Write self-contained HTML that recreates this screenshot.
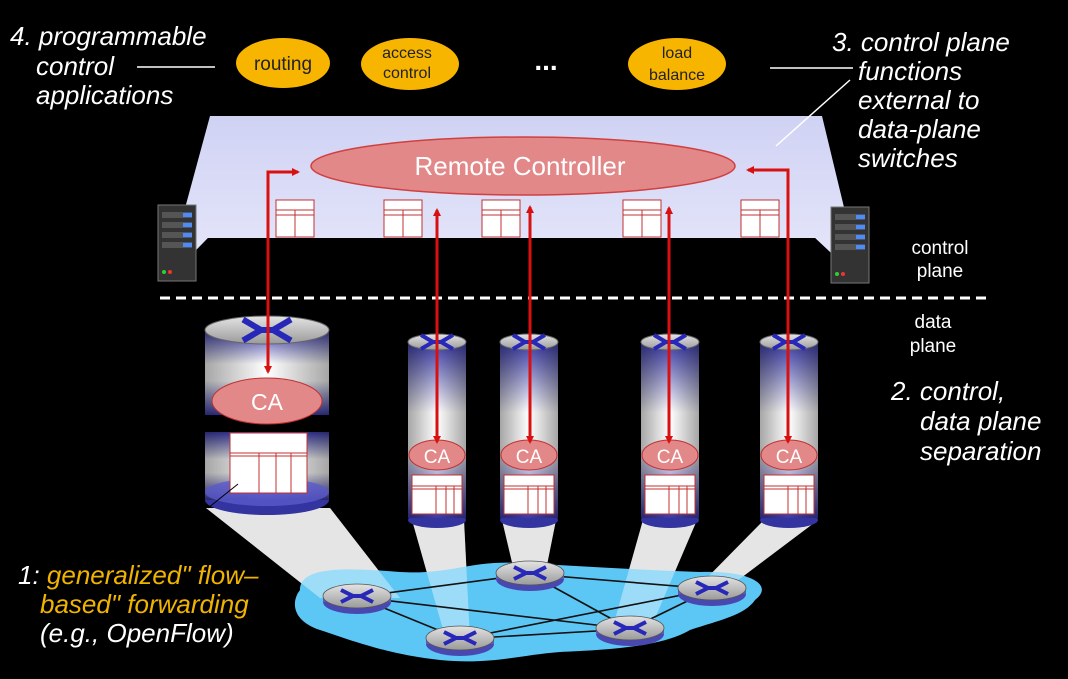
<!DOCTYPE html>
<html><head><meta charset="utf-8"><style>
html,body{margin:0;padding:0;background:#000;}
svg{display:block;}
text{font-family:"Liberation Sans",sans-serif;}
.it{font-style:italic;fill:#fff;font-size:26px;}
</style></head><body>
<svg width="1068" height="679" viewBox="0 0 1068 679" xmlns="http://www.w3.org/2000/svg">
<defs>
<linearGradient id="cyl" x1="0" y1="0" x2="0" y2="1">
<stop offset="0" stop-color="#3a3aa8"/><stop offset="0.4" stop-color="#ffffff"/><stop offset="0.6" stop-color="#ffffff"/><stop offset="1" stop-color="#3a3aa8"/>
</linearGradient>
<linearGradient id="cylh" x1="0" y1="0" x2="1" y2="0">
<stop offset="0" stop-color="#000" stop-opacity="0.35"/><stop offset="0.5" stop-color="#000" stop-opacity="0"/><stop offset="1" stop-color="#000" stop-opacity="0.35"/>
</linearGradient>
<linearGradient id="cap" x1="0" y1="0" x2="0" y2="1">
<stop offset="0" stop-color="#e4e4e4"/><stop offset="1" stop-color="#9a9a9a"/>
</linearGradient>
<linearGradient id="wall" x1="0" y1="0" x2="0" y2="1">
<stop offset="0" stop-color="#d0d2f4"/><stop offset="1" stop-color="#e8e9fb"/>
</linearGradient>
<g id="tbl"><rect x="0" y="0" width="38" height="37" fill="#fff" stroke="#c03030" stroke-width="1"/><line x1="0" y1="10" x2="38" y2="10" stroke="#c03030"/><line x1="0" y1="15" x2="38" y2="15" stroke="#c03030"/><line x1="19" y1="10" x2="19" y2="37" stroke="#c03030"/></g>
<g id="rt"><ellipse cx="0" cy="5" rx="34" ry="12" fill="#4848b0"/><rect x="-34" y="-1" width="68" height="6" fill="#5a5ac0"/><ellipse cx="0" cy="-1" rx="34" ry="12" fill="url(#cap)" stroke="#555" stroke-width="0.8"/><path d="M-16 -7 L-4 -1 L-16 5 M16 -7 L4 -1 L16 5 M-7 -1 L7 -1" stroke="#2828b8" stroke-width="4" fill="none"/></g>
<g id="x"><path d="M-16 -7 L-4 0 L-16 7 M16 -7 L4 0 L16 7 M-6 0 L6 0" stroke="#2828b8" stroke-width="4" fill="none"/></g>
<g id="cones">
<polygon points="206,508 330,508 400,598 320,598"/>
<polygon points="412,520 464,520 470,640 446,640"/>
<polygon points="502,520 556,520 545,575 515,575"/>
<polygon points="643,520 697,520 650,630 612,630"/>
<polygon points="764,520 818,520 725,590 695,590"/>
</g>
<marker id="ah" markerWidth="8" markerHeight="8" refX="6" refY="4" orient="auto" markerUnits="userSpaceOnUse"><path d="M0 0 L8 4 L0 8 Z" fill="#d81010"/></marker>
</defs>

<polygon points="210,116 822,116 862,282 815,238 208,238 165,282" fill="url(#wall)"/>
<polygon points="208,238 815,238 862,282 165,282" fill="#000"/>
<line x1="850" y1="80" x2="776" y2="146" stroke="#fff" stroke-width="1.5"/>
<line x1="770" y1="68" x2="853" y2="68" stroke="#fff" stroke-width="1.5"/>
<line x1="137" y1="67" x2="215" y2="67" stroke="#fff" stroke-width="1.5"/>

<g><rect x="158" y="205" width="38" height="76" fill="#333" stroke="#777"/><rect x="162" y="212" width="30" height="6" fill="#555"/><rect x="162" y="222" width="30" height="6" fill="#555"/><rect x="162" y="232" width="30" height="6" fill="#555"/><rect x="162" y="242" width="30" height="6" fill="#555"/><rect x="183" y="213" width="9" height="4" fill="#4a8cff"/><rect x="183" y="223" width="9" height="4" fill="#4a8cff"/><rect x="183" y="233" width="9" height="4" fill="#4a8cff"/><rect x="183" y="243" width="9" height="4" fill="#4a8cff"/><circle cx="164" cy="272" r="2" fill="#3c3"/><circle cx="170" cy="272" r="2" fill="#e33"/></g>
<g><rect x="831" y="207" width="38" height="76" fill="#333" stroke="#777"/><rect x="835" y="214" width="30" height="6" fill="#555"/><rect x="835" y="224" width="30" height="6" fill="#555"/><rect x="835" y="234" width="30" height="6" fill="#555"/><rect x="835" y="244" width="30" height="6" fill="#555"/><rect x="856" y="215" width="9" height="4" fill="#4a8cff"/><rect x="856" y="225" width="9" height="4" fill="#4a8cff"/><rect x="856" y="235" width="9" height="4" fill="#4a8cff"/><rect x="856" y="245" width="9" height="4" fill="#4a8cff"/><circle cx="837" cy="274" r="2" fill="#3c3"/><circle cx="843" cy="274" r="2" fill="#e33"/></g>

<ellipse cx="523" cy="166" rx="212" ry="29" fill="#e28888" stroke="#d04040" stroke-width="1.5"/>
<text x="520" y="175" font-size="26" fill="#fff" text-anchor="middle">Remote Controller</text>
<use href="#tbl" x="276" y="200"/><use href="#tbl" x="384" y="200"/><use href="#tbl" x="482" y="200"/><use href="#tbl" x="623" y="200"/><use href="#tbl" x="741" y="200"/>

<line x1="160" y1="298" x2="992" y2="298" stroke="#fff" stroke-width="3" stroke-dasharray="10,6"/>

<use href="#cones" fill="#d4d4d4"/>

<path d="M300 590 C300 565 350 568 400 572 C450 575 470 560 520 563 C580 566 640 570 700 572 C750 570 775 585 755 600 C745 615 720 620 690 630 C660 648 600 650 560 652 C520 655 490 665 440 660 C390 655 350 640 320 630 C290 620 292 600 300 590 Z" fill="#5cc6f4"/>
<use href="#cones" fill="#ffffff" opacity="0.4"/>
<g stroke="#111" stroke-width="1.6">
<line x1="357" y1="597" x2="530" y2="574"/><line x1="357" y1="597" x2="630" y2="629"/><line x1="357" y1="597" x2="460" y2="639"/>
<line x1="460" y1="639" x2="712" y2="589"/><line x1="460" y1="639" x2="630" y2="629"/><line x1="530" y1="574" x2="712" y2="589"/>
<line x1="530" y1="574" x2="630" y2="629"/><line x1="630" y1="629" x2="712" y2="589"/>
</g>
<use href="#rt" x="357" y="597"/><use href="#rt" x="530" y="574"/><use href="#rt" x="460" y="639"/><use href="#rt" x="630" y="629"/><use href="#rt" x="712" y="589"/>

<ellipse cx="267" cy="500" rx="62" ry="15" fill="#3434a0"/>
<rect x="205" y="432" width="124" height="68" fill="url(#cyl)"/>
<rect x="205" y="432" width="124" height="68" fill="url(#cylh)"/>
<ellipse cx="267" cy="492" rx="62" ry="14" fill="#5a5acc" opacity="0.8"/>
<rect x="205" y="330" width="124" height="85" fill="url(#cyl)"/>
<rect x="205" y="330" width="124" height="85" fill="url(#cylh)"/>
<ellipse cx="267" cy="330" rx="62" ry="14" fill="url(#cap)" stroke="#666"/>
<use href="#x" x="267" y="330" transform="translate(267 330) scale(1.5) translate(-267 -330)"/>
<ellipse cx="267" cy="401" rx="55" ry="23" fill="#e28888" stroke="#c03030"/>
<text x="267" y="410" font-size="23" fill="#fff" text-anchor="middle">CA</text>
<g><rect x="230" y="433" width="77" height="60" fill="#fff" stroke="#c03030"/><line x1="230" y1="453" x2="307" y2="453" stroke="#c03030"/><line x1="230" y1="456" x2="307" y2="456" stroke="#c03030"/><line x1="259" y1="453" x2="259" y2="493" stroke="#c03030"/><line x1="276" y1="453" x2="276" y2="493" stroke="#c03030"/><line x1="291" y1="453" x2="291" y2="493" stroke="#c03030"/></g>
<line x1="238" y1="484" x2="208" y2="508" stroke="#000"/>

<g id="cy1">
<ellipse cx="437" cy="520" rx="29" ry="8" fill="#3434a0"/>
<rect x="408" y="342" width="58" height="176" fill="url(#cyl)"/><rect x="408" y="342" width="58" height="176" fill="url(#cylh)"/>
<ellipse cx="437" cy="342" rx="29" ry="8" fill="url(#cap)" stroke="#666"/><use href="#x" x="437" y="342"/>
<ellipse cx="437" cy="455" rx="28" ry="15" fill="#e28888" stroke="#c03030"/>
<text x="437" y="463" font-size="19" fill="#fff" text-anchor="middle">CA</text>
<rect x="412" y="475" width="50" height="39" fill="#fff" stroke="#c03030"/><line x1="412" y1="486" x2="462" y2="486" stroke="#c03030"/><line x1="412" y1="489" x2="462" y2="489" stroke="#c03030"/><line x1="436" y1="486" x2="436" y2="514" stroke="#c03030"/><line x1="446" y1="486" x2="446" y2="514" stroke="#c03030"/><line x1="454" y1="486" x2="454" y2="514" stroke="#c03030"/>
</g>
<use href="#cy1" x="92"/><use href="#cy1" x="233"/><use href="#cy1" x="352"/>

<g stroke="#d81010" stroke-width="3" fill="none">
<path d="M268 372 L268 172 L298 172" marker-end="url(#ah)"/>
<line x1="268" y1="250" x2="268" y2="372" marker-end="url(#ah)"/>
<line x1="437" y1="300" x2="437" y2="210" marker-end="url(#ah)"/><line x1="437" y1="300" x2="437" y2="442" marker-end="url(#ah)"/>
<line x1="530" y1="300" x2="530" y2="207" marker-end="url(#ah)"/><line x1="530" y1="300" x2="530" y2="442" marker-end="url(#ah)"/>
<line x1="669" y1="300" x2="669" y2="208" marker-end="url(#ah)"/><line x1="669" y1="300" x2="669" y2="442" marker-end="url(#ah)"/>
<path d="M788 300 L788 170 L748 170" marker-end="url(#ah)"/><line x1="788" y1="300" x2="788" y2="442" marker-end="url(#ah)"/>
</g>

<ellipse cx="283" cy="63" rx="47" ry="25" fill="#f7b500"/>
<text x="283" y="70" font-size="19" fill="#222" text-anchor="middle">routing</text>
<ellipse cx="410" cy="64" rx="49" ry="26" fill="#f7b500"/>
<text x="407" y="58" font-size="16" fill="#222" text-anchor="middle">access</text><text x="407" y="78" font-size="16" fill="#222" text-anchor="middle">control</text>
<text x="546" y="70" font-size="28" fill="#fff" text-anchor="middle" font-weight="bold">...</text>
<ellipse cx="677" cy="64" rx="49" ry="26" fill="#f7b500"/>
<text x="677" y="58" font-size="16" fill="#222" text-anchor="middle">load</text><text x="677" y="80" font-size="16" fill="#222" text-anchor="middle">balance</text>

<text class="it" x="10" y="45">4. programmable</text>
<text class="it" x="36" y="75">control</text>
<text class="it" x="36" y="104">applications</text>
<text class="it" x="832" y="51">3. control plane</text>
<text class="it" x="858" y="80">functions</text>
<text class="it" x="858" y="109">external to</text>
<text class="it" x="858" y="138">data-plane</text>
<text class="it" x="858" y="167">switches</text>
<text x="940" y="254" font-size="19" fill="#fff" text-anchor="middle">control</text>
<text x="940" y="277" font-size="19" fill="#fff" text-anchor="middle">plane</text>
<text x="933" y="328" font-size="19" fill="#fff" text-anchor="middle">data</text>
<text x="933" y="352" font-size="19" fill="#fff" text-anchor="middle">plane</text>
<text class="it" x="891" y="400">2. control,</text>
<text class="it" x="920" y="430">data plane</text>
<text class="it" x="920" y="460">separation</text>
<text class="it" x="18" y="584"><tspan>1: </tspan><tspan fill="#f0b400">generalized" flow–</tspan></text>
<text class="it" x="40" y="613" style="fill:#f0b400">based" forwarding</text>
<text class="it" x="40" y="642">(e.g., OpenFlow)</text>
</svg>
</body></html>
